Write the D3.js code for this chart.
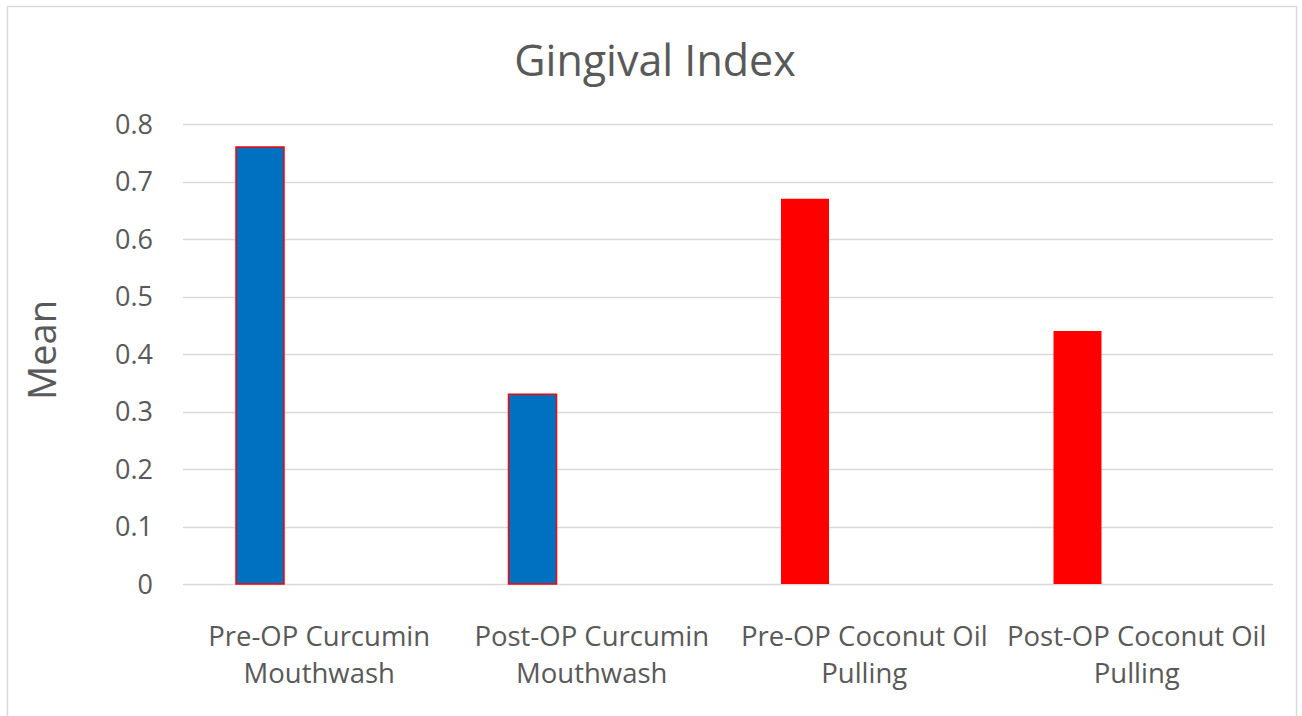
<!DOCTYPE html>
<html>
<head>
<meta charset="utf-8">
<script src="https://cdn.jsdelivr.net/npm/d3@7"></script>
<style>
  html, body { margin: 0; padding: 0; background: #fff; }
  svg { display: block; }
  text { font-family: "Open Sans", "Noto Sans", sans-serif; fill: #595959; }
</style>
</head>
<body>
<svg id="chart" width="1302" height="716"></svg>
<script>
// Chart data
const categories = [
  ["Pre-OP Curcumin", "Mouthwash"],
  ["Post-OP Curcumin", "Mouthwash"],
  ["Pre-OP Coconut Oil", "Pulling"],
  ["Post-OP Coconut Oil", "Pulling"]
];
const meanValues = [0.76, 0.33, 0.67, 0.44];
const barFills = ["#0070C0", "#0070C0", "#FF0000", "#FF0000"];
const yTicks = [0, 0.1, 0.2, 0.3, 0.4, 0.5, 0.6, 0.7, 0.8];
const titleText = "Gingival Index";
const yTitle = "Mean";

const svg = d3.select("#chart");

// Outer chart frame
svg.append("rect")
  .attr("x", 7.5).attr("y", 6.5)
  .attr("width", 1289).attr("height", 720)
  .attr("fill", "#fff").attr("stroke", "#d9d9d9").attr("stroke-width", 1.5);

const plot = { left: 183, right: 1273, top: 124, bottom: 584 };

const keys = categories.map(c => c.join(" "));
const x = d3.scaleBand().domain(keys).range([plot.left, plot.right]).padding(0);
const y = d3.scaleLinear().domain([0, 0.8]).range([plot.bottom, plot.top]);

// Bar placement within each category band
const barOffset = 53, barWidth = 48;

// Gridlines
svg.append("g")
  .selectAll("line")
  .data(yTicks)
  .join("line")
  .attr("x1", plot.left).attr("x2", plot.right)
  .attr("y1", d => Math.round(y(d)) + 0.5).attr("y2", d => Math.round(y(d)) + 0.5)
  .attr("stroke", "#d9d9d9").attr("stroke-width", 1.5);

// Y axis labels
const yAxis = d3.axisLeft(y).tickValues(yTicks).tickSize(0).tickPadding(0)
  .tickFormat(d => d === 0 ? "0" : d3.format(".1f")(d));
const gy = svg.append("g").attr("transform", `translate(${plot.left - 30},0)`).call(yAxis);
gy.select(".domain").remove();
gy.selectAll("text")
  .attr("font-size", 27)
  .attr("fill", "#595959")
  .style("font-family", '"Open Sans", "Noto Sans", sans-serif')
  .attr("dy", "0.35em");

// Bars
svg.append("g")
  .selectAll("rect")
  .data(meanValues)
  .join("rect")
  .attr("x", (d, i) => x(keys[i]) + barOffset)
  .attr("y", d => y(d))
  .attr("width", barWidth)
  .attr("height", d => y(0) - y(d))
  .attr("fill", (d, i) => barFills[i])
  .attr("stroke", "#FF0000")
  .attr("stroke-width", (d, i) => barFills[i] === "#FF0000" ? 0 : 1.5);

// Category labels (two lines each)
const catG = svg.append("g");
categories.forEach((lines, i) => {
  const cx = x(keys[i]) + x.bandwidth() / 2;
  const t = catG.append("text")
    .attr("x", cx).attr("y", 646)
    .attr("text-anchor", "middle")
    .attr("font-size", 27.5);
  lines.forEach((ln, j) => {
    t.append("tspan").attr("x", cx).attr("dy", j === 0 ? 0 : 37).text(ln);
  });
});

// Title
svg.append("text")
  .attr("x", 655).attr("y", 76)
  .attr("text-anchor", "middle")
  .attr("font-size", 43)
  .text(titleText);

// Y axis title
svg.append("text")
  .attr("transform", "translate(56,350) rotate(-90)")
  .attr("text-anchor", "middle")
  .attr("font-size", 38)
  .text(yTitle);
</script>
</body>
</html>
